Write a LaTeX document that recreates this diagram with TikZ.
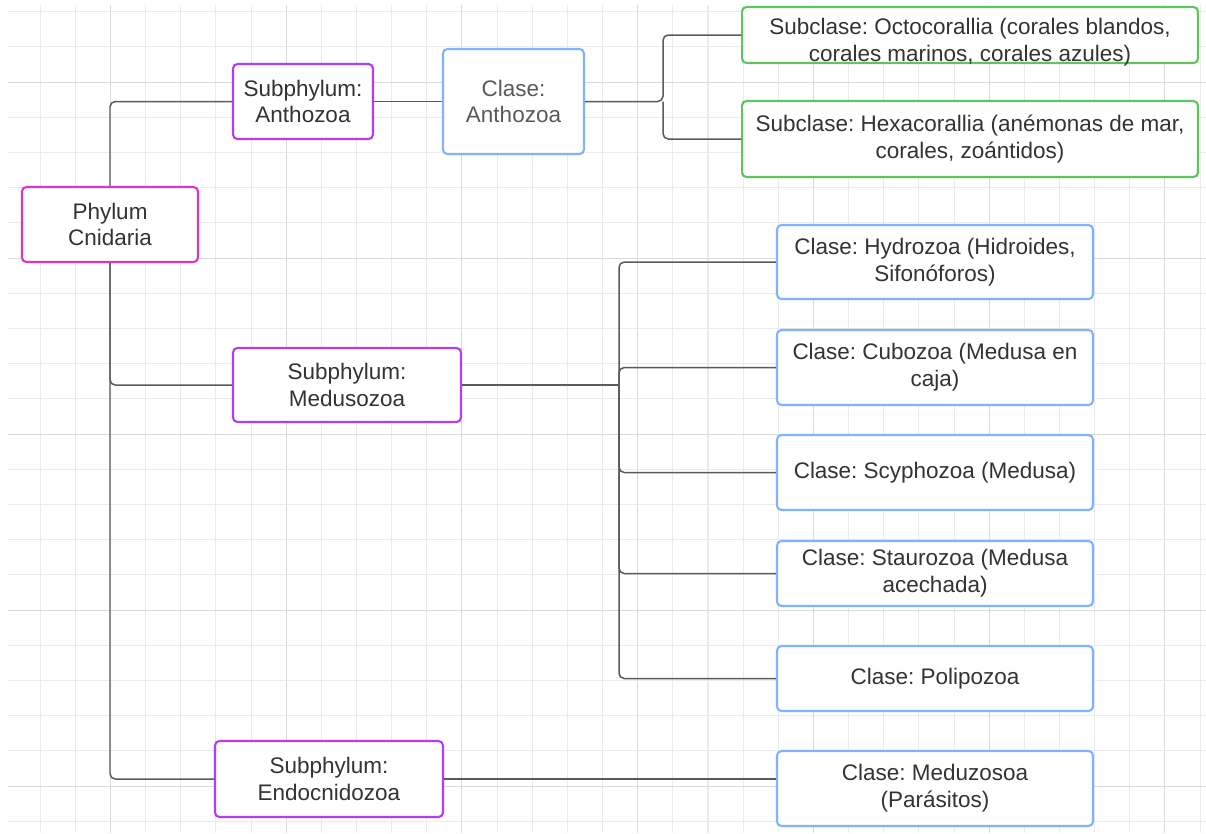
\documentclass[tikz,border=0pt]{standalone}
\usepackage{fontspec}
\setmainfont{Liberation Sans}
\usepackage{tikz}
\frenchspacing
\definecolor{phylumcol}{HTML}{E034C6}
\definecolor{subcol}{HTML}{B43CF2}
\definecolor{clasecol}{HTML}{80B3FF}
\definecolor{subclcol}{HTML}{5CC65C}
\definecolor{linkcol}{HTML}{5A5A5A}
\definecolor{gridlight}{HTML}{EBEBEB}
\definecolor{griddark}{HTML}{DADADA}
\definecolor{txtcol}{HTML}{333333}

\tikzset{
  taxbox/.style={draw, rounded corners=2.5pt, line width=1.2pt, fill=white,
    align=center, text=txtcol, inner sep=2pt,
    font=\fontsize{12.8}{15.3}\selectfont},
  phylumbox/.style={taxbox, draw=phylumcol},
  subbox/.style={taxbox, draw=subcol},
  clasebox/.style={taxbox, draw=clasecol},
  subclbox/.style={taxbox, draw=subclcol},
  boxtext/.style={align=center, text=txtcol, inner sep=0pt,
    font=\fontsize{12.8}{15.3}\selectfont},
  link/.style={draw=linkcol, line width=0.85pt, rounded corners=3pt},
}

\begin{document}
\begin{tikzpicture}[x=0.02cm, y=-0.02cm]
  \useasboundingbox (0,0) rectangle (1206,833);
  % background grid
  \fill[white] (0,0) rectangle (1206,833);
  \foreach \k in {1,...,34} {
    \pgfmathsetmacro{\gx}{5+35.15*\k}
    \pgfmathtruncatemacro{\gm}{mod(\k,5)}
    \ifnum\gm=3 \def\gc{griddark}\else\def\gc{gridlight}\fi
    \draw[\gc, line width=0.6pt] (\gx,5) -- (\gx,833);
  }
  \foreach \k in {0,...,23} {
    \pgfmathsetmacro{\gy}{11.7+35.2*\k}
    \pgfmathtruncatemacro{\gm}{mod(\k,5)}
    \ifnum\gm=2 \def\gc{griddark}\else\def\gc{gridlight}\fi
    \draw[\gc, line width=0.6pt] (8,\gy) -- (1206,\gy);
  }

  % nodes
  \node[phylumbox, minimum width=3.52cm, minimum height=1.5cm] (phylum) at (110,224.5) {Phylum\\Cnidaria};
  \node[subbox, minimum width=2.8cm, minimum height=1.5cm] (subA) at (303,101.5) {Subphylum:\\Anthozoa};
  \node[clasebox, minimum width=2.82cm, minimum height=2.1cm, text=linkcol] (claseA) at (513.5,101.5) {Clase:\\Anthozoa};
  \node[subclbox, minimum width=9.12cm, minimum height=1.12cm] (octo) at (970,35) {};
  \node[boxtext] (octotxt) at ([yshift=-4.3pt]octo.center) {Subclase: Octocorallia (corales blandos,\\corales marinos, corales azules)};
  \node[subclbox, minimum width=9.12cm, minimum height=1.52cm] (hexa) at (970,139) {Subclase: Hexacorallia (anémonas de mar,\\corales, zoántidos)};
  \node[subbox, minimum width=4.56cm, minimum height=1.48cm] (subM) at (347,385) {Subphylum:\\Medusozoa};
  \node[clasebox, minimum width=6.32cm, minimum height=1.48cm] (hydro) at (935,262) {Clase: Hydrozoa (Hidroides,\\Sifonóforos)};
  \node[clasebox, minimum width=6.32cm, minimum height=1.5cm] (cubo) at (935,367.5) {Clase: Cubozoa (Medusa en\\caja)};
  \node[clasebox, minimum width=6.32cm, minimum height=1.5cm] (scypho) at (935,472.5) {Clase: Scyphozoa (Medusa)};
  \node[clasebox, minimum width=6.32cm, minimum height=1.3cm] (stauro) at (935,573.5) {Clase: Staurozoa (Medusa\\acechada)};
  \node[clasebox, minimum width=6.32cm, minimum height=1.3cm] (polipo) at (935,678.5) {Clase: Polipozoa};
  \node[subbox, minimum width=4.56cm, minimum height=1.52cm] (subE) at (329,779) {Subphylum:\\Endocnidozoa};
  \node[clasebox, minimum width=6.32cm, minimum height=1.5cm] (medu) at (935,788.5) {Clase: Meduzosoa\\(Parásitos)};

  \coordinate (jA) at (663,101.5);
  \coordinate (jM) at (619,385);

  % connectors
  \draw[link] (phylum.north) |- (subA.west);
  \draw[link] (subA.east) -- (claseA.west);
  \draw[link] (claseA.east) -- (jA) |- (octo.west);
  \draw[link] (jA) |- (hexa.west);
  \draw[link] (phylum.south) |- (subM.west);
  \draw[link] (phylum.south) |- (subE.west);
  \draw[link] (subM.east) -- (jM);
  \foreach \t in {hydro,cubo,scypho,stauro,polipo}
    \draw[link] (jM) |- (\t.west);
  \draw[link] (subE.east) -- (subE.east -| medu.west);
\end{tikzpicture}
\end{document}
